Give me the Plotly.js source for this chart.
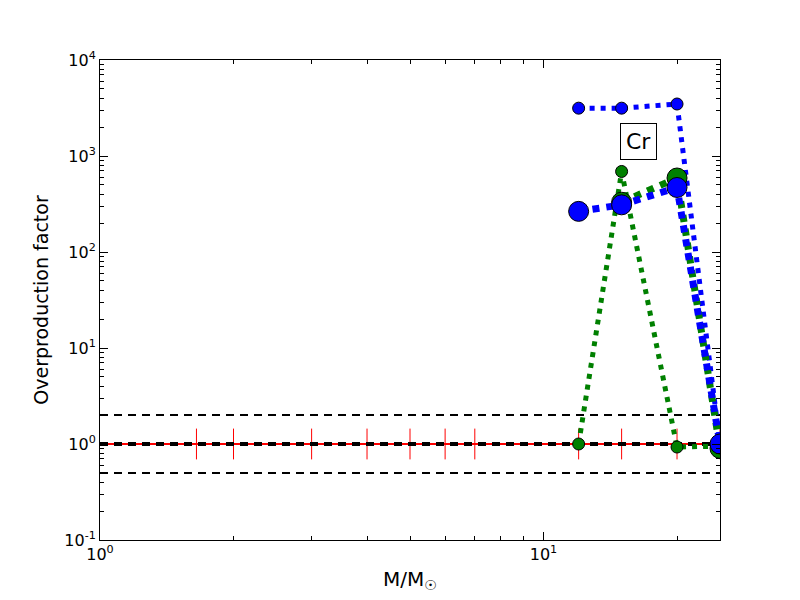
<!DOCTYPE html>
<html><head><meta charset="utf-8">
<script src="https://cdn.plot.ly/plotly-3.0.1.min.js"></script>
<style>body{margin:0}#c{width:800px;height:600px}</style>
</head><body><div id="c"></div>
<script>
const masses = [12, 15, 20, 25];
const blueSmall = [3150, 3150, 3480, 1.0];
const blueLarge = [265, 310, 470, 1.0];
const greenSmall = [1.0, 690, 0.93, 0.95];
const greenLargeMass = [15, 20, 25];
const greenLarge = [330, 590, 0.9];
const refMarkMass = [1.65, 2, 3, 4, 5, 6, 7, 12, 15, 20, 25];
const refMarkVal = refMarkMass.map(() => 1);
const bandX = [1, 25];
const upper = [2, 2], mid = [1, 1], lower = [0.5, 0.5];
const xMinor = [2, 3, 4, 5, 6, 7, 8, 9, 20];
const yMinor = [];
[0.1, 1, 10, 100, 1000].forEach(d => { for (let k = 2; k <= 9; k++) yMinor.push(d * k); });

const traces = [
  {x: bandX, y: mid, mode: 'lines', line: {color: 'red', width: 2}},
  {x: refMarkMass, y: refMarkVal, mode: 'markers',
   marker: {symbol: 'line-ns', size: 22, color: 'red', line: {color: 'red', width: 1}}},
  {x: bandX, y: upper, mode: 'lines', line: {color: 'black', width: 2, dash: '8px,6px'}},
  {x: bandX, y: lower, mode: 'lines', line: {color: 'black', width: 2, dash: '8px,6px'}},
  {x: bandX, y: mid, mode: 'lines', line: {color: 'black', width: 4, dash: '8px,6px'}},
  {x: masses, y: greenSmall, mode: 'lines+markers', line: {color: 'green', width: 5, dash: '5px,6px'},
   marker: {color: 'green', size: 12, line: {color: 'black', width: 1}}},
  {x: masses, y: blueSmall, mode: 'lines+markers', line: {color: 'blue', width: 5, dash: '5px,6px'},
   marker: {color: 'blue', size: 12, line: {color: 'black', width: 1}}},
  {x: greenLargeMass, y: greenLarge, mode: 'lines+markers', line: {color: 'green', width: 7, dash: '7px,7px'},
   marker: {color: 'green', size: 20, line: {color: 'black', width: 1}}},
  {x: masses, y: blueLarge, mode: 'lines+markers', line: {color: 'blue', width: 7, dash: '7px,7px'},
   marker: {color: 'blue', size: 20, line: {color: 'black', width: 1}}}
];

const axisCommon = {
  showline: true, linecolor: 'black', linewidth: 1, mirror: 'ticks',
  ticks: 'inside', ticklen: 8, tickcolor: 'black', showgrid: false, zeroline: false
};

const layout = {
  width: 800, height: 600,
  margin: {l: 100, r: 80, t: 60, b: 60},
  paper_bgcolor: 'white', plot_bgcolor: 'white',
  showlegend: false,
  font: {family: 'DejaVu Sans', color: 'black', size: 16},
  xaxis: Object.assign({}, axisCommon, {
    type: 'log', range: [0, Math.log10(25)],
    tickvals: [1, 10], ticktext: ['10<sup>0</sup>', '10<sup>1</sup>'],
    minor: {tickmode: 'array', tickvals: xMinor, ticks: 'inside', ticklen: 4, tickcolor: 'black', showgrid: false},
    title: {text: 'M/M<sub>\u2609</sub>', font: {size: 20}, standoff: 8}
  }),
  yaxis: Object.assign({}, axisCommon, {
    type: 'log', range: [-1, 4],
    tickvals: [0.1, 1, 10, 100, 1000, 10000],
    ticktext: ['10<sup>-1</sup>', '10<sup>0</sup>', '10<sup>1</sup>', '10<sup>2</sup>', '10<sup>3</sup>', '10<sup>4</sup>'],
    minor: {tickmode: 'array', tickvals: yMinor, ticks: 'inside', ticklen: 4, tickcolor: 'black', showgrid: false},
    title: {text: 'Overproduction factor', font: {size: 19}, standoff: 10}
  }),
  annotations: [{
    x: Math.log10(16.4), y: Math.log10(1430), xref: 'x', yref: 'y',
    text: 'Cr', showarrow: false, font: {size: 22, color: 'black'},
    bordercolor: 'black', borderwidth: 1, borderpad: 5, bgcolor: 'white'
  }]
};

Plotly.newPlot('c', traces, layout, {displayModeBar: false});
</script>
</body></html>
